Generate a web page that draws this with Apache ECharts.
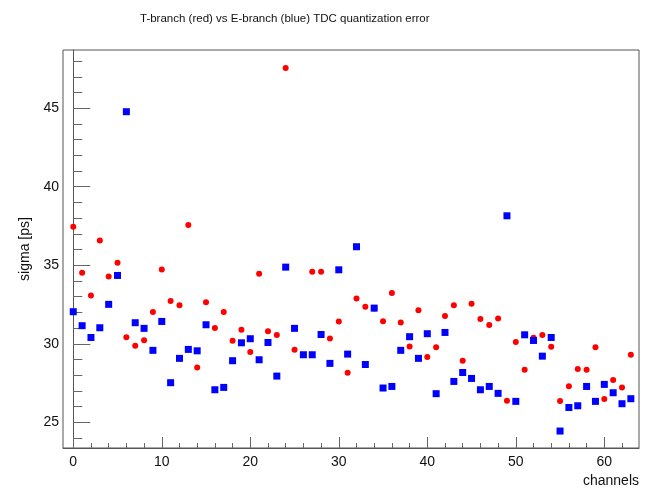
<!DOCTYPE html>
<html>
<head>
<meta charset="utf-8">
<script src="https://cdn.jsdelivr.net/npm/echarts@6/dist/echarts.min.js"></script>
<style>
  html, body { margin: 0; padding: 0; background: #fff; }
  #chart { width: 654px; height: 488px; }
</style>
</head>
<body>
<div id="chart"></div>
<script>
// channel numbers 0..63
const channels = [
  0, 1, 2, 3, 4, 5, 6, 7, 8, 9, 10, 11, 12, 13, 14, 15,
  16, 17, 18, 19, 20, 21, 22, 23, 24, 25, 26, 27, 28, 29, 30, 31,
  32, 33, 34, 35, 36, 37, 38, 39, 40, 41, 42, 43, 44, 45, 46, 47,
  48, 49, 50, 51, 52, 53, 54, 55, 56, 57, 58, 59, 60, 61, 62, 63
];

// T-branch (red), sigma in ps
const tBranch = [
  37.45, 34.52, 33.08, 36.58, 34.29, 35.16, 30.42, 29.87, 30.23, 32.02, 34.73, 32.72, 32.46, 37.56, 28.49, 32.65,
  31.00, 32.02, 30.19, 30.89, 29.47, 34.46, 30.79, 30.55, 47.56, 29.62, 29.28, 34.59, 34.59, 30.34, 31.42, 28.15,
  32.89, 32.36, 32.25, 31.44, 33.23, 31.36, 29.83, 32.14, 29.15, 29.77, 31.76, 32.46, 28.92, 32.55, 31.57, 31.19,
  31.61, 26.37, 30.11, 28.34, 30.38, 30.55, 29.81, 26.35, 27.30, 28.39, 28.34, 29.77, 26.48, 27.69, 27.22, 29.30
];

// E-branch (blue), sigma in ps
const eBranch = [
  32.04, 31.15, 30.40, 31.02, 32.51, 34.35, 44.78, 31.34, 30.98, 29.58, 31.42, 27.52, 29.07, 29.64, 29.55, 31.21,
  27.07, 27.22, 28.92, 30.06, 30.32, 28.98, 30.08, 27.94, 34.88, 30.98, 29.30, 29.30, 30.59, 28.75, 34.71, 29.34,
  36.18, 28.68, 32.27, 27.18, 27.28, 29.58, 30.45, 29.07, 30.64, 26.82, 30.72, 27.60, 28.17, 27.79, 27.07, 27.28,
  26.84, 38.15, 26.33, 30.57, 30.21, 29.21, 30.40, 24.44, 25.94, 26.05, 27.28, 26.33, 27.41, 26.88, 26.18, 26.50
];

const xMajor = [0, 10, 20, 30, 40, 50, 60];
const xMinor = [0, 2, 4, 6, 8, 10, 12, 14, 16, 18, 20, 22, 24, 26, 28, 30, 32, 34, 36, 38, 40, 42, 44, 46, 48, 50, 52, 54, 56, 58, 60, 62];
const yMajor = [25, 30, 35, 40, 45];
const yMinor = [24, 25, 26, 27, 28, 29, 30, 31, 32, 33, 34, 35, 36, 37, 38, 39, 40, 41, 42, 43, 44, 45, 46, 47, 48];

const xRange = [-1.16, 63.92];
const yRange = [23.36, 48.71];

const font = "'Liberation Sans', Helvetica, Arial, sans-serif";
const tickColor = "#666";

const chart = echarts.init(document.getElementById("chart"));

const option = {
  animation: false,
  backgroundColor: "#fff",
  title: {
    text: "T-branch (red) vs E-branch (blue) TDC quantization error",
    left: 135,
    top: 8,
    textStyle: { fontFamily: font, fontSize: 11.5, fontWeight: "normal", color: "#111" },
  },
  grid: {
    left: 63, right: 15, top: 50, bottom: 40,
    show: true, borderColor: "#555", borderWidth: 1, backgroundColor: "#fff",
  },
  xAxis: [
    {
      type: "value",
      min: xRange[0],
      max: xRange[1],
      name: "channels",
      nameLocation: "end",
      nameGap: 0,
      nameTextStyle: {
        fontFamily: font, fontSize: 14, color: "#111",
        align: "right", verticalAlign: "top", padding: [26, 0, 0, 0],
      },
      axisLine: { show: true, lineStyle: { color: "#555" } },
      splitLine: { show: false },
      axisTick: { show: true, inside: true, length: 11, customValues: xMajor, lineStyle: { color: tickColor } },
      axisLabel: { customValues: xMajor, margin: 7, fontFamily: font, fontSize: 14, color: "#111" },
    },
    {
      type: "value",
      min: xRange[0],
      max: xRange[1],
      position: "bottom",
      axisLine: { show: false },
      splitLine: { show: false },
      axisTick: { show: true, inside: true, length: 5, customValues: xMinor, lineStyle: { color: tickColor } },
      axisLabel: { show: false },
    },
  ],
  yAxis: [
    {
      type: "value",
      min: yRange[0],
      max: yRange[1],
      name: "sigma [ps]",
      nameLocation: "middle",
      nameGap: 29,
      nameTextStyle: { fontFamily: font, fontSize: 14, color: "#111" },
      axisLine: { show: true, lineStyle: { color: "#555" } },
      splitLine: { show: false },
      axisTick: { show: true, inside: true, length: 17, customValues: yMajor, lineStyle: { color: tickColor } },
      axisLabel: { customValues: yMajor, margin: 4, fontFamily: font, fontSize: 14, color: "#111" },
    },
    {
      type: "value",
      min: yRange[0],
      max: yRange[1],
      position: "left",
      axisLine: { show: false },
      splitLine: { show: false },
      axisTick: { show: true, inside: true, length: 9, customValues: yMinor, lineStyle: { color: tickColor } },
      axisLabel: { show: false },
    },
  ],
  series: [
    {
      name: "T-branch",
      type: "scatter",
      symbol: "circle",
      symbolSize: 6,
      itemStyle: { color: "#ff0000", opacity: 1 },
      data: channels.map((c, i) => [c, tBranch[i]]),
    },
    {
      name: "E-branch",
      type: "scatter",
      symbol: "rect",
      symbolSize: 7,
      itemStyle: { color: "#0000ff", opacity: 1 },
      data: channels.map((c, i) => [c, eBranch[i]]),
      z: 3,
    },
  ],
};

chart.setOption(option);
</script>
</body>
</html>
